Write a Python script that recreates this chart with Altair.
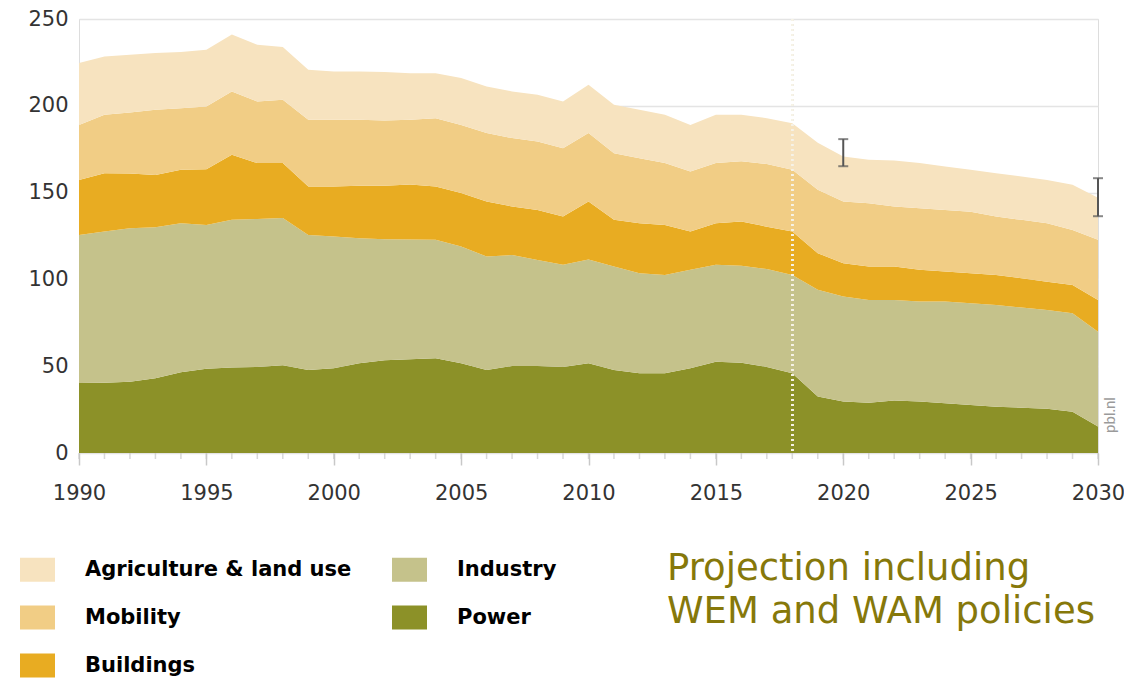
import altair as alt
import pandas as pd

years = list(range(1990, 2031))
x_labels = [1990, 1995, 2000, 2005, 2010, 2015, 2020, 2025, 2030]

power = [40.3, 40.5, 41.0, 43.0, 46.5, 48.5, 49.3, 49.6, 50.6, 47.8,
         48.8, 51.7, 53.4, 54.0, 54.6, 51.7, 47.8, 50.1, 50.1, 49.6,
         51.7, 47.8, 45.9, 45.9, 48.8, 52.6, 52.0, 49.6, 45.9, 32.5,
         29.6, 29.0, 30.2, 29.6, 28.6, 27.7, 26.7, 26.1, 25.5, 23.8, 15.2]
industry = [85.3, 87.1, 88.5, 87.0, 85.9, 82.9, 85.0, 85.2, 84.7, 77.8,
            75.9, 72.0, 69.7, 69.0, 68.2, 67.2, 65.4, 63.9, 61.1, 58.8,
            59.8, 59.6, 57.7, 56.7, 56.7, 55.8, 55.8, 56.4, 56.6, 61.5,
            60.5, 59.2, 58.0, 57.6, 58.6, 58.6, 58.6, 57.7, 56.9, 56.7, 54.7]
buildings = [31.7, 33.6, 31.5, 30.2, 30.7, 32.0, 37.5, 32.2, 31.7, 27.9,
             28.8, 30.3, 30.9, 31.6, 30.7, 30.8, 31.7, 28.0, 28.8, 27.8,
             33.4, 26.9, 28.8, 28.8, 22.1, 24.0, 25.5, 24.4, 25.1, 21.1,
             19.2, 19.2, 19.2, 18.3, 17.3, 17.3, 17.3, 16.9, 16.3, 16.3, 18.3]
mobility = [31.7, 33.6, 35.1, 37.5, 35.5, 36.2, 36.5, 35.5, 36.5, 38.4,
            38.4, 37.9, 37.5, 37.4, 39.4, 39.3, 39.4, 39.4, 39.4, 39.4,
            39.4, 38.4, 37.4, 35.6, 34.5, 34.6, 34.7, 36.1, 35.5, 36.5,
            35.6, 36.5, 34.6, 35.5, 35.5, 35.4, 33.6, 33.6, 33.7, 31.7, 34.6]
agriculture = [35.6, 33.6, 33.3, 32.7, 32.4, 32.7, 32.7, 32.7, 30.3, 28.8,
               27.9, 27.9, 28.0, 26.8, 25.9, 27.0, 26.8, 26.9, 26.9, 26.9,
               27.8, 27.9, 27.9, 27.8, 26.9, 27.8, 26.8, 26.4, 26.9, 27.1,
               25.9, 25.0, 26.5, 26.0, 25.0, 24.1, 25.0, 25.0, 24.9, 26.0, 24.2]

# stack order bottom -> top
sectors_stack = ["Power", "Industry", "Buildings", "Mobility", "Agriculture & land use"]
series = [power, industry, buildings, mobility, agriculture]

# legend order (column-major in a 2-column grid)
legend_order = ["Agriculture & land use", "Mobility", "Buildings", "Industry", "Power"]
legend_colors = ["#F7E3BF", "#F1CD85", "#E8AC22", "#C5C28B", "#8C9128"]

split_year = 2018
err_years = [2020, 2030]
err_low = [165.2, 136.4]
err_high = [180.8, 158.3]

y_ticks = [0, 50, 100, 150, 200, 250]

rows = []
for rank, (name, vals) in enumerate(zip(sectors_stack, series)):
    for yr, v in zip(years, vals):
        rows.append({"year": yr, "sector": name, "value": v, "rank": rank})
df = pd.DataFrame(rows)
err_df = pd.DataFrame({"year": err_years, "low": err_low, "high": err_high})
year_df = pd.DataFrame({"year": years})

W, H = 1019, 434

x_scale = alt.Scale(domain=[1990, 2030], nice=False, zero=False)
y_scale = alt.Scale(domain=[0, 250], nice=False)

x_axis = alt.Axis(
    values=x_labels,
    format="d",
    title=None,
    domain=False,
    grid=False,
    labelOverlap=False,
    labelFlush=False,
    labelBound=False,
    tickColor="#c8c8c8",
    tickWidth=1.5,
    tickSize=12,
    labelPadding=17,
    labelFont="DejaVu Sans",
    labelFontSize=21,
    labelColor="#333333",
)
y_axis = alt.Axis(
    values=y_ticks,
    title=None,
    domain=False,
    ticks=False,
    labelPadding=11,
    gridColor="#e4e4e4",
    gridWidth=1.5,
    labelFont="DejaVu Sans",
    labelFontSize=21,
    labelColor="#333333",
)

split_under = alt.Chart(df).mark_rule(
    color="#bdbdbd", strokeDash=[2, 3], strokeWidth=2
).encode(x=alt.datum(split_year, scale=x_scale))

areas = alt.Chart(df).mark_area(opacity=1).encode(
    x=alt.X("year:Q", scale=x_scale, axis=x_axis),
    y=alt.Y("value:Q", stack="zero", scale=y_scale, axis=y_axis),
    color=alt.Color(
        "sector:N",
        scale=alt.Scale(domain=legend_order, range=legend_colors),
        legend=alt.Legend(
            title=None,
            orient="none",
            legendX=-59,
            legendY=533,
            columns=2,
            columnPadding=40,
            rowPadding=18,
            padding=0,
            symbolType="M-1,-0.686L1,-0.686L1,0.686L-1,0.686Z",
            symbolSize=1225,
            symbolStrokeWidth=0,
            symbolOpacity=1,
            labelFont="DejaVu Sans",
            labelFontWeight="bold",
            labelFontSize=21,
            labelColor="#000000",
            labelOffset=30,
            labelLimit=400,
        ),
    ),
    order=alt.Order("rank:Q"),
)

# minor year ticks below the baseline
minor_ticks = alt.Chart(year_df).mark_tick(
    orient="vertical", color="#c8c8c8", thickness=1.5, size=6
).encode(
    x=alt.X("year:Q", scale=x_scale),
    y=alt.value(H + 3),
)

split_over = alt.Chart(df).mark_rule(
    color="#f6f3e6", strokeDash=[2, 3], strokeWidth=2, opacity=0.9
).encode(x=alt.datum(split_year, scale=x_scale))

errbars = alt.Chart(err_df).mark_errorbar(
    ticks={"size": 10, "thickness": 2},
    rule={"strokeWidth": 2},
    color="#555555",
).encode(
    x=alt.X("year:Q", scale=x_scale),
    y=alt.Y("low:Q", scale=y_scale),
    y2="high:Q",
)

projection_text = alt.Chart(pd.DataFrame({"a": [0]})).mark_text(
    text="Projection including\nWEM and WAM policies",
    lineBreak="\n",
    align="left",
    baseline="alphabetic",
    font="DejaVu Sans",
    fontSize=37,
    lineHeight=43,
    color="#86780A",
).encode(x=alt.value(588), y=alt.value(561))

source_text = alt.Chart(pd.DataFrame({"a": [0]})).mark_text(
    text="pbl.nl",
    angle=270,
    align="center",
    baseline="middle",
    font="Lato",
    fontSize=15,
    color="#9a9a9a",
).encode(x=alt.value(1031), y=alt.value(396))

chart = alt.layer(
    split_under, areas, minor_ticks, split_over, errbars, projection_text, source_text
).properties(
    width=W,
    height=H,
    autosize=alt.AutoSizeParams(type="none"),
    padding={"left": 71, "top": 11, "right": 26, "bottom": 228},
).configure_view(
    stroke=None
).configure_axisX(
    labelOverlap=False
).configure(background="white")

chart.save("out.html", embed_options={"renderer": "svg", "actions": False})
